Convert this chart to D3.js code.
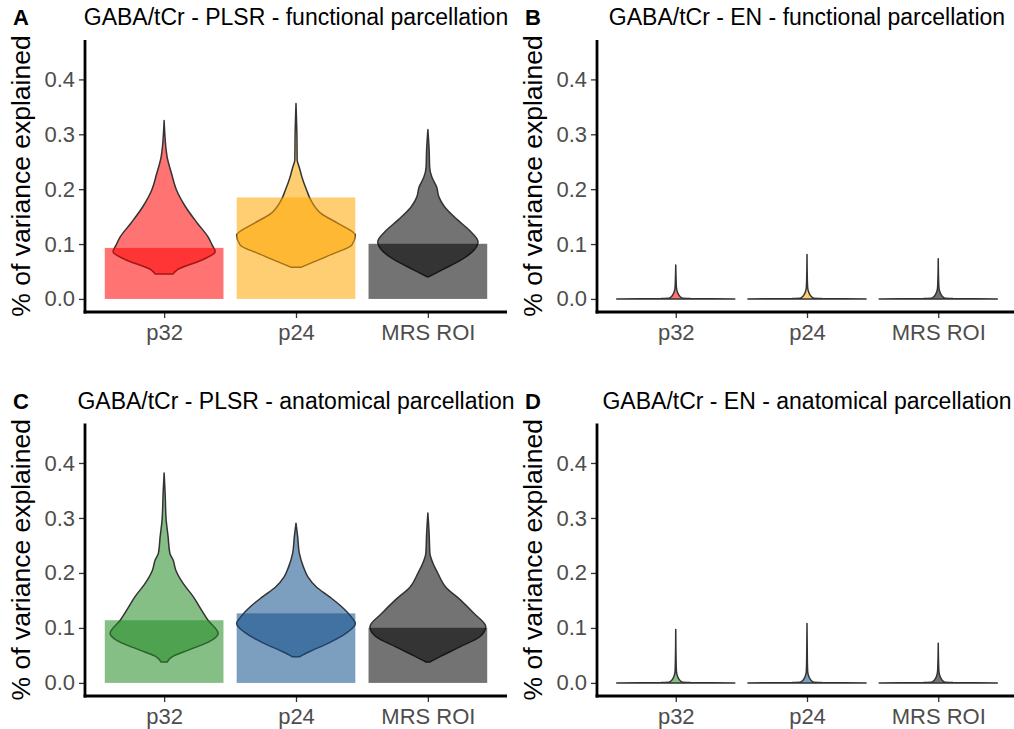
<!DOCTYPE html>
<html>
<head>
<meta charset="utf-8">
<script src="https://cdn.jsdelivr.net/npm/d3@7"></script>
<style>
  body { margin: 0; background: #ffffff; }
  svg text { font-family: "Liberation Sans", Arial, sans-serif; }
</style>
</head>
<body>
<svg id="CHART" width="1014" height="729"></svg>
<script>
// categories and tick labels
var categories = ["p32", "p24", "MRS ROI"];
var yTicks = [0, 0.1, 0.2, 0.3, 0.4];
var panelLetters = ["A", "B", "C", "D"];
var panelTitles = [
  "GABA/tCr - PLSR - functional parcellation",
  "GABA/tCr - EN - functional parcellation",
  "GABA/tCr - PLSR - anatomical parcellation",
  "GABA/tCr - EN - anatomical parcellation"
];
var functionalColors = ["#FF0000", "#FFA500", "#000000"];
var anatomicalColors = ["#228B22", "#104E8B", "#000000"];

// bar heights (% of variance explained)
var barsA = [0.093, 0.185, 0.1005];
var barsB = [0, 0, 0];
var barsC = [0.114, 0.1265, 0.1003];
var barsD = [0, 0, 0];

// violin profiles: [value, relative width]
var violinA_p32 = [[0.0455, 0.15], [0.053, 0.22], [0.071, 0.64], [0.086, 0.86], [0.098, 0.81], [0.113, 0.74], [0.138, 0.56], [0.168, 0.36], [0.198, 0.21], [0.228, 0.126], [0.259, 0.05], [0.277, 0.028], [0.30, 0.012], [0.325, 0]];
var violinA_p24 = [[0.0576, 0.08], [0.068, 0.31], [0.083, 0.64], [0.098, 0.94], [0.116, 1.0], [0.138, 0.70], [0.156, 0.42], [0.18, 0.25], [0.198, 0.18], [0.222, 0.10], [0.24, 0.055], [0.253, 0.02], [0.30, 0.015], [0.356, 0]];
var violinA_mrs = [[0.0406, 0.02], [0.053, 0.24], [0.071, 0.56], [0.089, 0.78], [0.104, 0.845], [0.125, 0.70], [0.144, 0.50], [0.168, 0.28], [0.186, 0.185], [0.204, 0.148], [0.222, 0.067], [0.24, 0.03], [0.27, 0.022], [0.3085, 0]];

var violinB_p32 = [[0, 1.0], [0.0008, 0.25], [0.002, 0.1], [0.006, 0.06], [0.012, 0.03], [0.02, 0.012], [0.035, 0.006], [0.062, 0]];
var violinB_p24 = [[0, 1.0], [0.0008, 0.25], [0.002, 0.1], [0.006, 0.06], [0.012, 0.03], [0.02, 0.012], [0.035, 0.006], [0.081, 0]];
var violinB_mrs = [[0, 1.0], [0.0008, 0.25], [0.002, 0.1], [0.006, 0.06], [0.012, 0.03], [0.02, 0.012], [0.035, 0.006], [0.073, 0]];

var violinC_p32 = [[0.038, 0.05], [0.047, 0.126], [0.060, 0.42], [0.075, 0.76], [0.090, 0.91], [0.114, 0.74], [0.1325, 0.63], [0.157, 0.49], [0.181, 0.32], [0.205, 0.197], [0.224, 0.15], [0.236, 0.096], [0.266, 0.067], [0.297, 0.034], [0.345, 0.017], [0.382, 0]];
var violinC_p24 = [[0.0474, 0.055], [0.0566, 0.22], [0.072, 0.54], [0.090, 0.84], [0.108, 1.0], [0.1203, 0.93], [0.1386, 0.77], [0.157, 0.56], [0.175, 0.34], [0.193, 0.20], [0.2115, 0.123], [0.236, 0.056], [0.266, 0.028], [0.2906, 0]];
var violinC_mrs = [[0.038, 0.03], [0.0474, 0.197], [0.0656, 0.54], [0.084, 0.875], [0.102, 0.976], [0.1265, 0.775], [0.151, 0.547], [0.175, 0.295], [0.1995, 0.168], [0.218, 0.084], [0.236, 0.034], [0.27, 0.022], [0.309, 0]];

var violinD_p32 = [[0, 1.0], [0.0008, 0.25], [0.002, 0.1], [0.006, 0.06], [0.012, 0.03], [0.02, 0.012], [0.04, 0.006], [0.097, 0]];
var violinD_p24 = [[0, 1.0], [0.0008, 0.25], [0.002, 0.1], [0.006, 0.06], [0.012, 0.03], [0.02, 0.012], [0.04, 0.006], [0.108, 0]];
var violinD_mrs = [[0, 1.0], [0.0008, 0.25], [0.002, 0.1], [0.006, 0.06], [0.012, 0.03], [0.02, 0.012], [0.035, 0.006], [0.072, 0]];

let d3 = window.d3;
let svg = d3.select("#CHART");

const ALPHA = 0.55;
const Y_DOMAIN = [-0.0238, 0.4718];

// panel boxes
var panels = [
  { left: 85, right: 507, top: 40, bottom: 312, bars: barsA, violins: [violinA_p32, violinA_p24, violinA_mrs], colors: functionalColors },
  { left: 597, right: 1017, top: 40, bottom: 312, bars: barsB, violins: [violinB_p32, violinB_p24, violinB_mrs], colors: functionalColors },
  { left: 85, right: 507, top: 423.5, bottom: 696, bars: barsC, violins: [violinC_p32, violinC_p24, violinC_mrs], colors: anatomicalColors },
  { left: 597, right: 1017, top: 423.5, bottom: 696, bars: barsD, violins: [violinD_p32, violinD_p24, violinD_mrs], colors: anatomicalColors }
];

let drawPanel = function (p, i) {
  let g = svg.append("g").attr("class", "panel" + panelLetters[i]);

  let xScale = d3.scalePoint().domain(categories).range([p.left, p.right]).padding(0.6);
  let step = xScale.step();
  let yScale = d3.scaleLinear().domain(Y_DOMAIN).range([p.bottom, p.top]);

  // violins first, bars over them
  p.violins.forEach(function (prof, k) {
    let cx = xScale(categories[k]);
    let area = d3.area()
      .curve(d3.curveMonotoneY)
      .y(function (d) { return yScale(d[0]); })
      .x0(function (d) { return cx - d[1] * 0.45 * step; })
      .x1(function (d) { return cx + d[1] * 0.45 * step; });
    g.append("path")
      .attr("d", area(prof))
      .attr("fill", p.colors[k])
      .attr("fill-opacity", ALPHA)
      .attr("stroke", "#333333")
      .attr("stroke-width", 1.5)
      .attr("stroke-linejoin", "round");
  });

  g.selectAll("rect.bar")
    .data(p.bars)
    .enter()
    .append("rect")
    .attr("class", "bar")
    .attr("x", function (d, k) { return xScale(categories[k]) - 0.45 * step; })
    .attr("width", 0.9 * step)
    .attr("y", function (d) { return yScale(d); })
    .attr("height", function (d) { return yScale(0) - yScale(d); })
    .attr("fill", function (d, k) { return p.colors[k]; })
    .attr("fill-opacity", ALPHA);

  // y axis
  let yAxis = d3.axisLeft(yScale).tickValues(yTicks).tickFormat(d3.format(".1f")).tickSize(6).tickPadding(4);
  let ya = g.append("g").attr("transform", `translate(${p.left},0)`).call(yAxis);
  ya.select(".domain").remove();
  ya.selectAll(".tick line").attr("stroke", "#333333").attr("stroke-width", 1.3);
  ya.selectAll(".tick text")
    .attr("fill", "#4D4D4D")
    .style("font-size", "22px");

  // x axis
  let xAxis = d3.axisBottom(xScale).tickSize(6).tickPadding(6);
  let xa = g.append("g").attr("transform", `translate(0,${p.bottom})`).call(xAxis);
  xa.select(".domain").remove();
  xa.selectAll(".tick line").attr("stroke", "#333333").attr("stroke-width", 1.3);
  xa.selectAll(".tick text")
    .attr("fill", "#4D4D4D")
    .attr("dy", "0.71em")
    .style("font-size", "22px");

  // axis lines
  g.append("line")
    .attr("x1", p.left).attr("x2", p.left)
    .attr("y1", p.top).attr("y2", p.bottom + 1.4)
    .attr("stroke", "#000000").attr("stroke-width", 2.8);
  g.append("line")
    .attr("x1", p.left - 1.4).attr("x2", p.right)
    .attr("y1", p.bottom).attr("y2", p.bottom)
    .attr("stroke", "#000000").attr("stroke-width", 2.8);

  // y axis title
  g.append("text")
    .attr("transform", `translate(${p.left - 55.5},${(p.top + p.bottom) / 2}) rotate(-90)`)
    .attr("text-anchor", "middle")
    .attr("fill", "#000000")
    .style("font-size", "26.5px")
    .text("% of variance explained");

  // title + letter
  g.append("text")
    .attr("x", (p.left + p.right) / 2)
    .attr("y", p.top - 15)
    .attr("text-anchor", "middle")
    .attr("fill", "#000000")
    .style("font-size", "23px")
    .text(panelTitles[i]);
  g.append("text")
    .attr("x", p.left - 72)
    .attr("y", p.top - 15)
    .attr("fill", "#000000")
    .style("font-size", "22px")
    .style("font-weight", "bold")
    .text(panelLetters[i]);
};

panels.forEach(drawPanel);
</script>
</body>
</html>
